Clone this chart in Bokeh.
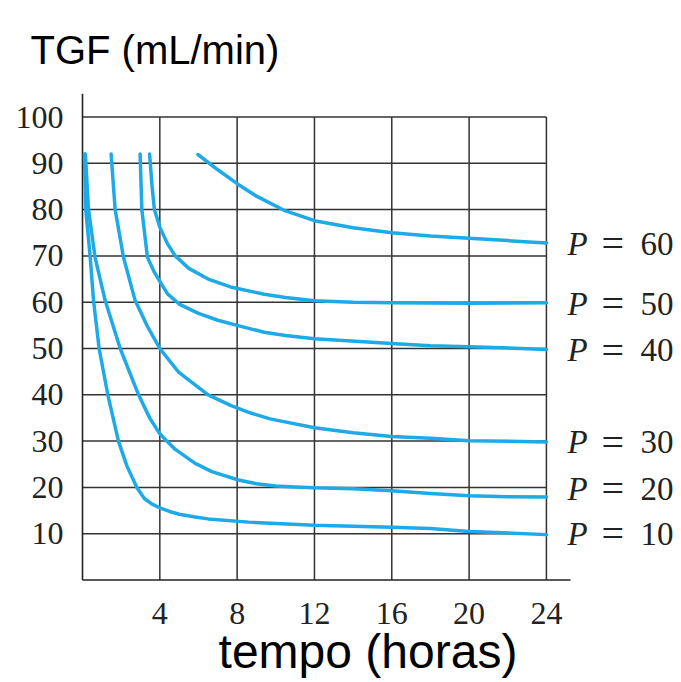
from bokeh.plotting import figure
from bokeh.models import Range1d
from bokeh.core.properties import value
from bokeh.embed import file_html
from bokeh.resources import INLINE

# ---- data ----
pressures = [10, 20, 30, 40, 50, 60]

t_p10 = [0.1, 0.17, 0.4, 0.57, 0.86, 1.31, 1.86, 2.29, 2.81, 3.2, 3.6, 4.0, 4.5, 5.0, 5.83, 6.5, 8.6, 12, 16, 18, 20, 24]
g_p10 = [92, 80, 69.7, 60.4, 50, 40, 30, 24.7, 20, 17.6, 16.4, 15.6, 14.8, 14.2, 13.6, 13.2, 12.5, 11.8, 11.4, 11.1, 10.5, 9.8]

t_p20 = [0.15, 0.31, 0.65, 1.17, 1.95, 2.9, 3.5, 4.0, 4.36, 4.8, 5.83, 6.69, 8.07, 9.0, 10, 11, 12, 14, 16, 18, 20, 22, 24]
g_p20 = [92, 80, 69.7, 60.4, 50, 40, 34.8, 31.6, 30.0, 28.2, 25.2, 23.4, 21.6, 20.8, 20.3, 20.1, 19.9, 19.7, 19.3, 18.7, 18.2, 18.0, 17.9]

t_p30 = [1.48, 1.69, 2.12, 2.72, 3.33, 4.0, 4.97, 6.5, 7.66, 8.6, 9.7, 12, 14, 16, 18, 20, 24]
g_p30 = [92, 80, 69.7, 60.4, 55, 50, 44.9, 40, 37.7, 36.2, 34.8, 32.9, 31.8, 31.0, 30.6, 30.1, 29.8]

t_p40 = [2.98, 3.07, 3.36, 3.7, 4.0, 4.4, 5.0, 6.0, 7.0, 8.0, 9.4, 10.5, 12, 16, 18, 20, 24]
g_p40 = [92, 80, 69.7, 66.6, 64.5, 61.8, 59.6, 57.6, 56.1, 55.0, 53.5, 52.8, 52.1, 51.1, 50.6, 50.4, 49.8]

t_p50 = [3.47, 3.6, 3.72, 4.0, 4.4, 4.8, 5.5, 6.5, 7.66, 9.4, 10.5, 12, 14, 16, 20, 24]
g_p50 = [92, 85, 80, 76.2, 72.6, 70.0, 67.3, 65.0, 63.3, 61.7, 61.0, 60.3, 60.0, 59.9, 59.8, 59.9]

t_p60 = [5.97, 7.0, 8.0, 9.0, 10.4, 12, 14, 16, 18, 20, 22, 24]
g_p60 = [91.9, 88.6, 85.6, 82.9, 79.9, 77.6, 76.1, 75.0, 74.3, 73.8, 73.3, 72.8]

curves_t = [t_p10, t_p20, t_p30, t_p40, t_p50, t_p60]
curves_g = [g_p10, g_p20, g_p30, g_p40, g_p50, g_p60]

x_ticks = [4, 8, 12, 16, 20, 24]
y_ticks = [10, 20, 30, 40, 50, 60, 70, 80, 90, 100]

label_y = [10, 19.7, 29.8, 49.6, 59.7, 72.6]

y_title = "TGF (mL/min)"
x_title = "tempo (horas)"

BLUE = "#1daae6"
GRID = "#333333"
INK = "#222222"
SERIF = "Liberation Serif"

# whole canvas is the frame; axes are drawn by hand
W, H = 680, 680
PX_X, PX_Y = 19.33, 4.63        # pixels per data unit
X0, Y0 = 82, 579.5              # pixel position of the data origin
x_lo = -X0 / PX_X
y_hi = Y0 / PX_Y

p = figure(width=W, height=H, output_backend="svg", toolbar_location=None,
           x_range=Range1d(x_lo, x_lo + W / PX_X), y_range=Range1d(y_hi - H / PX_Y, y_hi),
           x_axis_type=None, y_axis_type=None, min_border=0)
p.outline_line_color = None
p.xgrid.visible = False
p.ygrid.visible = False
p.background_fill_color = "white"
p.border_fill_color = "white"

# grid box drawn from the tick arrays
p.segment(x0=x_ticks, y0=[0] * len(x_ticks), x1=x_ticks, y1=[max(y_ticks)] * len(x_ticks),
          line_color=GRID, line_width=1.5)
p.segment(x0=[0] * len(y_ticks), y0=y_ticks, x1=[max(x_ticks)] * len(y_ticks), y1=y_ticks,
          line_color=GRID, line_width=1.5)

# axis lines (extend slightly past the grid)
x_end = max(x_ticks) + 1.25
y_end = max(y_ticks) + 5
p.segment(x0=[0, 0], y0=[0, 0], x1=[x_end, 0], y1=[0, y_end], line_color=INK, line_width=1.6)

# tick labels
p.text(x=[0] * len(y_ticks), y=y_ticks, text=[str(v) for v in y_ticks],
       text_font=value(SERIF), text_font_size="32px", text_color=INK,
       text_align="right", text_baseline="middle", x_offset=-19)
p.text(x=x_ticks, y=[0] * len(x_ticks), text=[str(v) for v in x_ticks],
       text_font=value(SERIF), text_font_size="32px", text_color=INK,
       text_align="center", text_baseline="middle", y_offset=33)

for t, g in zip(curves_t, curves_g):
    p.line(t, g, line_color=BLUE, line_width=3.5, line_cap="round", line_join="round")

lx = [max(x_ticks) + 1.09] * len(pressures)
p.text(x=lx, y=label_y, text=["P"] * len(pressures), text_font=value(SERIF),
       text_font_style="italic", text_font_size="33px", text_color=INK, text_baseline="middle")
p.text(x=lx, y=label_y, text=["="] * len(pressures), text_font=value(SERIF),
       text_font_size="40px", text_color=INK, text_baseline="middle", x_offset=34)
p.text(x=lx, y=label_y, text=[str(v) for v in pressures], text_font=value(SERIF),
       text_font_size="33px", text_color=INK, text_baseline="middle", x_offset=73)

p.text(x=[-2.69], y=[114.4], text=[y_title], text_font=value("Liberation Sans"),
       text_font_size="40px", text_color="black", text_baseline="middle")
p.text(x=[7.04], y=[-15.5], text=[x_title], text_font=value("Liberation Sans"),
       text_font_size="48px", text_color="black", text_baseline="middle")

open("out.html", "w").write(file_html(p, INLINE))
